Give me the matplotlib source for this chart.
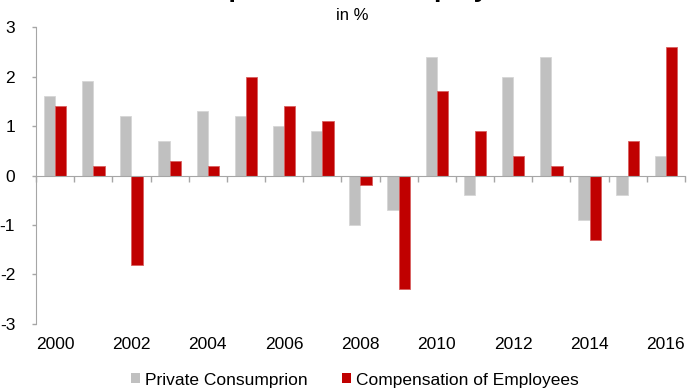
import matplotlib
matplotlib.use("Agg")
import matplotlib.pyplot as plt
from matplotlib.patches import Patch
from matplotlib.transforms import blended_transform_factory

plt.rcParams["font.family"] = ["Liberation Sans", "DejaVu Sans"]

years = list(range(2000, 2017))
private_consumption = [1.6, 1.9, 1.2, 0.7, 1.3, 1.2, 1.0, 0.9, -1.0, -0.7,
                       2.4, -0.4, 2.0, 2.4, -0.9, -0.4, 0.4]
compensation = [1.4, 0.2, -1.8, 0.3, 0.2, 2.0, 1.4, 1.1, -0.2, -2.3,
                1.7, 0.9, 0.4, 0.2, -1.3, 0.7, 2.6]
year_labels = [str(y) for y in years[::2]]

GRAY = "#c0c0c0"
RED = "#c00000"
AXIS = "#a6a6a6"

fig = plt.figure(figsize=(6.87, 3.91), dpi=100)
ax = fig.add_axes([0.0524, 0.1714, 0.9446, 0.7595])

x = list(range(len(years)))
w = 0.295
ax.bar([i - w / 2 for i in x], private_consumption, width=w, color=GRAY,
       edgecolor="#d6d6d6", linewidth=0.6)
ax.bar([i + w / 2 for i in x], compensation, width=w, color=RED,
       edgecolor="#d86060", linewidth=0.6)

ax.set_xlim(-0.5, len(years) - 0.5)
ax.set_ylim(-3, 3)
ax.set_yticks(range(-3, 4))
ax.set_yticklabels([str(v) for v in range(-3, 4)], fontsize=12.5)

for side in ("top", "right"):
    ax.spines[side].set_visible(False)
ax.spines["bottom"].set_position(("data", 0))
ax.spines["bottom"].set_color(AXIS)
ax.spines["left"].set_color(AXIS)

# category boundaries carry the tick marks, labels sit under the plot
ax.set_xticks([i - 0.5 for i in range(len(years) + 1)])
ax.set_xticklabels([])
ax.tick_params(axis="x", direction="out", length=4, color=AXIS, width=1)
ax.tick_params(axis="y", direction="out", length=3, color=AXIS, width=1, pad=12)

trans = blended_transform_factory(ax.transData, ax.transAxes)
for i, lab in zip(x[::2], year_labels):
    ax.text(i, -0.068, lab, transform=trans, ha="center", va="center", fontsize=12.5)

fig.text(0.511, 1.0066, "Private Consumption and\nCompensation of Employees",
         ha="center", va="baseline", fontsize=19, fontweight="bold")
fig.text(0.513, 1 - 15 / 391, "in %", ha="center", va="center", fontsize=12)

handles = [Patch(facecolor=GRAY, edgecolor="none"), Patch(facecolor=RED, edgecolor="none")]
fig.legend(handles, ["Private Consumprion", "Compensation of Employees"],
           loc="center", bbox_to_anchor=(0.517, 1 - 380 / 391), ncol=2, frameon=False,
           fontsize=12.5, handlelength=0.5, handleheight=0.5, handletextpad=0.3,
           columnspacing=2.0, borderaxespad=0)

fig.savefig("out.png", dpi=100)
